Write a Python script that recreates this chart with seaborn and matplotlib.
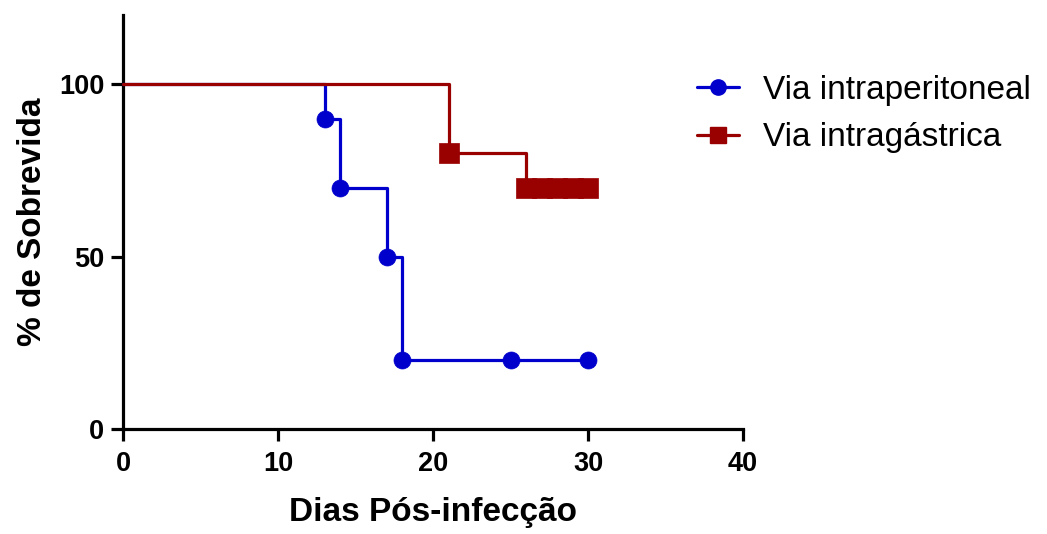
import matplotlib
matplotlib.use("Agg")
import matplotlib.pyplot as plt
from matplotlib.lines import Line2D
import seaborn as sns
import pandas as pd

# Kaplan-Meier survival data (percent surviving per day after infection)
ip_days = [0, 13, 14, 17, 18, 25, 30]
ip_surv = [100, 90, 70, 50, 20, 20, 20]
ig_days = [0, 21, 26, 27, 28, 29, 30]
ig_surv = [100, 80, 70, 70, 70, 70, 70]
groups = ["Via intraperitoneal", "Via intragástrica"]
colors = ["#0000CC", "#990000"]
markers = ["o", "s"]
x_ticks = [0, 10, 20, 30, 40]
y_ticks = [0, 50, 100]

sns.set_theme(style="white")
plt.rcParams["font.family"] = ["Liberation Sans", "DejaVu Sans"]
plt.rcParams["text.color"] = "black"
plt.rcParams["axes.labelcolor"] = "black"
plt.rcParams["xtick.color"] = "black"
plt.rcParams["ytick.color"] = "black"

df = pd.concat([
    pd.DataFrame({"dia": ip_days, "surv": ip_surv, "grupo": groups[0]}),
    pd.DataFrame({"dia": ig_days, "surv": ig_surv, "grupo": groups[1]}),
])

fig = plt.figure(figsize=(10.47, 5.34), dpi=100)
ax = fig.add_axes([0.1175, 0.1966, 0.5922, 0.7753])

for g, c, m in zip(groups, colors, markers):
    sub = df[df["grupo"] == g]
    sns.lineplot(data=sub, x="dia", y="surv", ax=ax, color=c, lw=2.3,
                 drawstyle="steps-post", estimator=None, sort=False,
                 legend=False, clip_on=False, zorder=3)
    pts = sub.iloc[1:]
    sns.scatterplot(data=pts, x="dia", y="surv", ax=ax, color=c, marker=m,
                    s=150 if m == "o" else 190, edgecolor=c, linewidth=0.5,
                    legend=False, clip_on=False, zorder=4)

ax.set_xlim(0, 40)
ax.set_ylim(0, 120)
ax.set_xticks(x_ticks)
ax.set_yticks(y_ticks)
for s in ["top", "right"]:
    ax.spines[s].set_visible(False)
for s in ["left", "bottom"]:
    ax.spines[s].set_linewidth(2.3)
    ax.spines[s].set_color("black")
ax.tick_params(axis="both", direction="out", length=8.5, width=2.3,
               color="black", labelcolor="black", labelsize=19.5,
               bottom=True, left=True)
ax.tick_params(axis="x", pad=7.5)
ax.tick_params(axis="y", pad=5)
for lab in ax.get_xticklabels() + ax.get_yticklabels():
    lab.set_fontweight("bold")

ax.set_xlabel("Dias Pós-infecção", fontsize=24, fontweight="bold",
              color="black", labelpad=14)
ax.set_ylabel("% de Sobrevida", fontsize=24, fontweight="bold",
              color="black", labelpad=8)

handles = [Line2D([0], [0], color=c, lw=2.3, marker=m,
                  markersize=11 if m == "o" else 12, markeredgecolor=c)
           for c, m in zip(colors, markers)]
leg = fig.legend(handles, groups, loc="upper left", bbox_to_anchor=(0.666, 0.86),
                 frameon=False, fontsize=24, handlelength=1.25, handletextpad=0.72,
                 labelspacing=0.5, borderpad=0, borderaxespad=0)
for t in leg.get_texts():
    t.set_color("black")

fig.savefig("out.png", dpi=100)
